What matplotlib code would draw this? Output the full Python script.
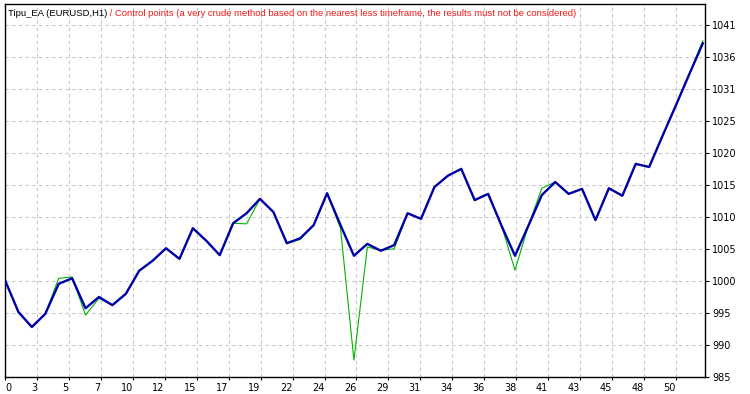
import matplotlib
matplotlib.use("Agg")
import matplotlib.pyplot as plt


# ---------------------------------------------------------------------
# DATA  (balance after each trade)
# ---------------------------------------------------------------------

balance = [1000.5, 995.4, 993.0, 995.1, 999.9, 1000.8, 996.0, 997.8, 996.5, 998.3,
           1002.0, 1003.6, 1005.6, 1003.9, 1008.8, 1006.8, 1004.5, 1009.6, 1011.2, 1013.5,
           1011.4, 1006.4, 1007.2, 1009.3, 1014.4, 1009.3, 1004.4, 1006.3, 1005.2, 1006.1,
           1011.2, 1010.3, 1015.4, 1017.2, 1018.3, 1013.3, 1014.3, 1009.2, 1004.4, 1009.2,
           1014.1, 1016.2, 1014.3, 1015.1, 1010.1, 1015.2, 1014.0, 1019.1, 1018.6, 1023.6,
           1028.5, 1033.5, 1038.4]

control = [1000.5, 995.4, 993.0, 995.1, 1000.8, 1001.0, 994.9, 997.6, 996.5, 998.3,
           1002.0, 1003.6, 1005.6, 1003.9, 1008.8, 1006.8, 1004.5, 1009.6, 1009.5, 1013.5,
           1011.4, 1006.4, 1007.0, 1009.3, 1014.4, 1008.8, 987.7, 1005.8, 1005.3, 1005.5,
           1011.2, 1010.3, 1015.4, 1017.2, 1018.3, 1013.3, 1014.3, 1009.2, 1002.1, 1009.2,
           1015.2, 1016.2, 1014.3, 1015.1, 1010.1, 1015.2, 1014.0, 1019.1, 1018.6, 1023.6,
           1028.5, 1033.5, 1038.8]

x_labels = ["0", "3", "5", "7", "10", "12", "15", "17", "19", "22", "24",
            "26", "29", "31", "34", "36", "38", "41", "43", "45", "48", "50"]
y_labels = ["985", "990", "995", "1000", "1005", "1010", "1015", "1020",
            "1025", "1031", "1036", "1041"]

title_ea = "Tipu_EA (EURUSD,H1)"
title_note = (" / Control points (a very crude method based on the nearest less "
              "timeframe, the results must not be considered)")


# ---------------------------------------------------------------------
# FIGURE
# ---------------------------------------------------------------------

W, H = 750, 394
fig = plt.figure(figsize=(W / 100, H / 100), dpi=100)
ax = fig.add_axes([5 / W, (H - 377) / H, 700 / W, 373 / H])

trades = range(len(balance))
ax.plot(trades, control, color="#00B400", lw=0.8, zorder=3)
ax.plot(trades, balance, color="#0000A8", lw=1.7, zorder=4)

x_step = 50 / 21
y_step = 5.12
ax.set_xticks([i * x_step for i in range(len(x_labels))])
ax.set_xticklabels(x_labels)
ax.set_yticks([985 + i * y_step for i in range(len(y_labels))])
ax.set_yticklabels(y_labels)

ax.set_xlim(0, 700 / 13.42)
ax.set_ylim(985, 985 + 373 * 0.16)

ax.grid(True, color="#C8C8C8", ls=(0, (3, 3)), lw=0.8)
ax.yaxis.tick_right()
ax.tick_params(axis="y", direction="out", length=3, width=0.8, pad=2, labelsize=7)
ax.tick_params(axis="x", direction="out", length=2, width=0.8, pad=2, labelsize=7)
for lbl in ax.get_xticklabels():
    lbl.set_horizontalalignment("right")
ax.get_xticklabels()[0].set_horizontalalignment("left")
for s in ax.spines.values():
    s.set_linewidth(1.0)

# two-colour caption in the top-left corner
cap_y = (H - 15.5) / H
t1 = fig.text(8 / W, cap_y, title_ea, fontsize=6.8, family="Liberation Sans", color="black")
r = fig.canvas.get_renderer()
bb = t1.get_window_extent(renderer=r)
fig.text(bb.x1 / W, cap_y, title_note, fontsize=6.8, family="Liberation Sans", color="#F01818")

fig.savefig("out.png", dpi=100)
